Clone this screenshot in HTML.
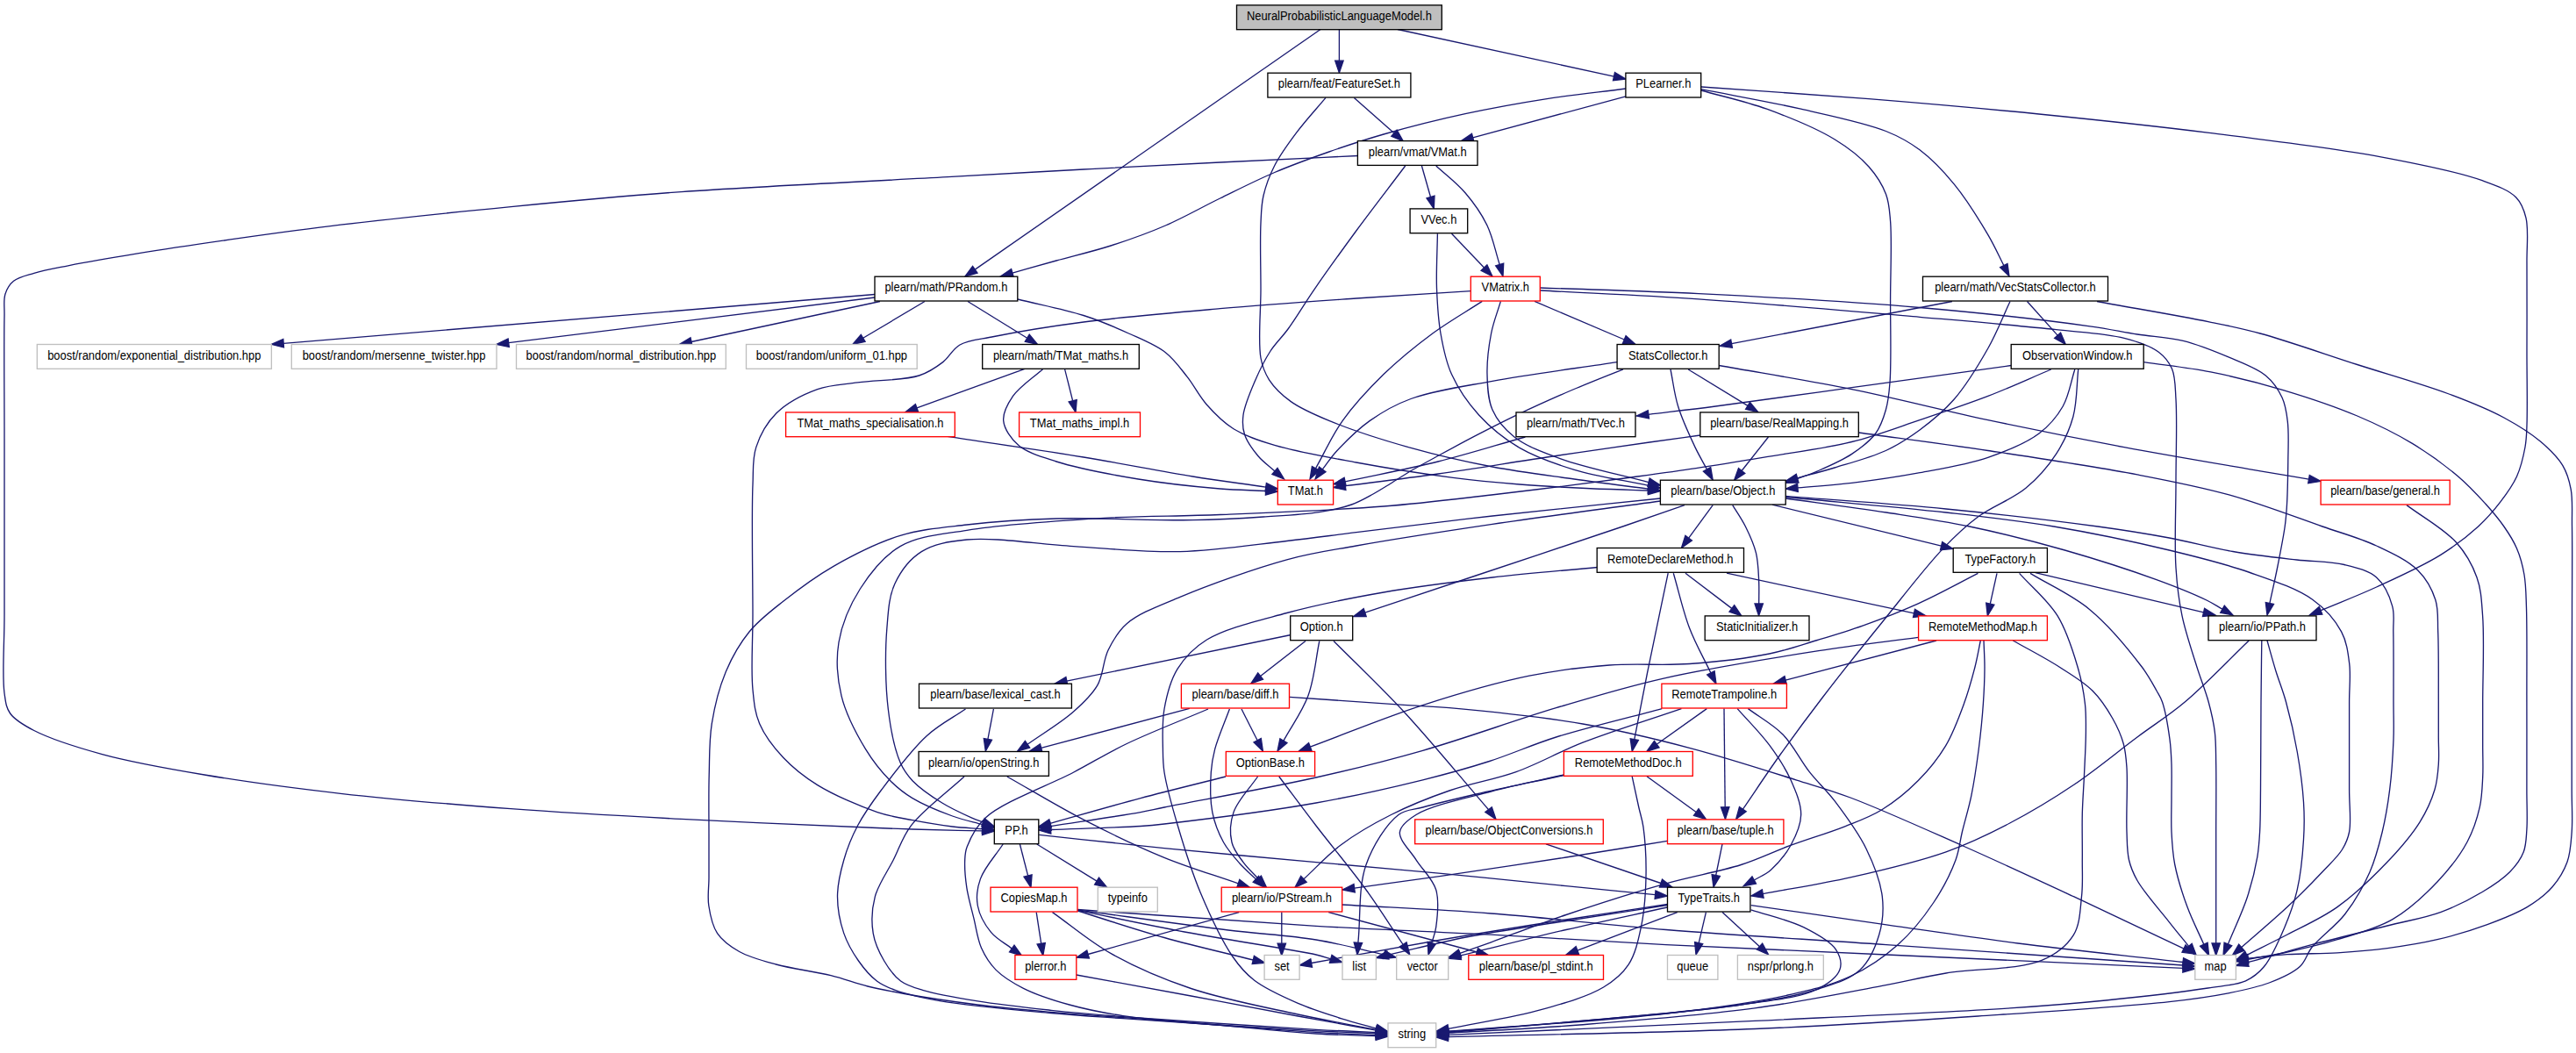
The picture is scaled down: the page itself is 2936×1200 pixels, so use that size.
<!DOCTYPE html>
<html><head><meta charset="utf-8"><title>NeuralProbabilisticLanguageModel.h include graph</title>
<style>html,body{margin:0;padding:0;background:#fff}svg{display:block}.e path{fill:none;stroke:#191970;stroke-width:1.33}.e polygon{fill:#191970;stroke:#191970;stroke-width:1.33}.n rect{fill:#fff;stroke-width:1.33}.k{stroke:#000}.r{stroke:#f00}.g{stroke:#bfbfbf}text{font-family:"Liberation Sans",Helvetica,Arial,sans-serif;font-size:14px;fill:#000;text-anchor:middle}</style></head><body>
<svg width="2936" height="1200" viewBox="0 0 2936 1200">
<rect width="2936" height="1200" fill="#fff"/>
<g class="e">
<path d="M1505.0,33.5L1111.3,307.1"/><polygon points="1100.0,315.0 1108.6,303.3 1114.0,311.0"/>
<path d="M1526.4,33.5L1526.4,69.2"/><polygon points="1526.4,83.0 1521.7,69.2 1531.1,69.2"/>
<path d="M1593.0,33.5L1839.5,87.1"/><polygon points="1853.0,90.0 1838.5,91.7 1840.5,82.5"/>
<path d="M1543.4,111.4L1589.0,151.7"/><polygon points="1599.3,160.8 1585.8,155.2 1592.1,148.1"/>
<path d="M1511.0,111.4C1499.8,124.7 1487.5,138.0 1477.5,151.4C1468.2,163.8 1459.1,176.2 1452.7,188.7C1446.9,200.0 1442.6,211.7 1440.0,223.0C1437.6,233.4 1437.6,241.4 1437.0,254.0C1436.0,273.7 1437.0,304.5 1437.0,330.0C1437.0,355.8 1433.6,389.5 1437.0,408.0C1439.0,418.8 1441.5,425.0 1446.5,432.8C1452.3,441.7 1461.2,450.3 1471.3,457.6C1483.2,466.2 1497.3,472.1 1514.8,479.4C1539.7,489.7 1576.7,501.6 1608.0,510.4C1638.8,519.1 1669.9,526.1 1701.0,532.0C1732.0,537.9 1764.0,541.7 1794.3,546.0C1823.1,550.1 1850.6,553.5 1878.7,557.2"/><polygon points="1892.4,559.0 1878.1,561.9 1879.3,552.5"/>
<path d="M1853.0,101.0C1823.0,104.9 1793.2,107.9 1763.0,112.6C1732.2,117.4 1700.9,123.0 1670.0,129.7C1638.9,136.4 1604.8,145.1 1577.0,153.0C1554.1,159.6 1535.4,165.8 1514.8,173.0C1494.0,180.3 1473.2,187.8 1452.7,196.5C1431.8,205.4 1411.3,215.9 1390.6,226.0C1369.8,236.1 1349.4,247.9 1328.4,257.0C1307.9,265.9 1286.9,273.3 1266.0,280.0C1245.4,286.6 1223.6,291.6 1204.0,297.0C1186.4,301.9 1170.6,306.4 1153.9,311.1"/><polygon points="1140.6,314.8 1152.6,306.5 1155.2,315.6"/>
<path d="M1853.0,109.8L1678.7,156.9"/><polygon points="1665.4,160.5 1677.5,152.4 1679.9,161.4"/>
<path d="M1939.0,101.7C1976.8,109.2 2016.3,115.9 2052.5,124.2C2086.2,131.9 2125.0,139.7 2149.5,149.5C2165.8,156.0 2175.7,161.6 2188.0,170.8C2201.7,181.1 2214.7,194.7 2227.0,209.6C2240.9,226.5 2255.9,250.7 2266.0,267.9C2273.5,280.7 2277.9,290.9 2283.8,302.5"/><polygon points="2290.0,314.8 2279.6,304.6 2288.0,300.4"/>
<path d="M1939.0,103.0C1963.9,110.1 1988.8,115.2 2013.6,124.2C2039.6,133.7 2070.5,146.3 2091.3,159.0C2107.2,168.7 2120.0,178.7 2130.0,190.0C2138.6,199.7 2145.4,210.5 2149.5,221.3C2153.3,231.3 2153.5,239.3 2154.6,252.3C2156.4,274.0 2154.7,310.1 2154.6,340.0C2154.5,371.3 2155.8,412.9 2154.0,436.0C2153.0,449.2 2152.2,457.2 2149.4,467.0C2146.7,476.5 2143.6,485.9 2137.7,494.0C2131.1,502.9 2120.9,510.5 2110.6,517.4C2099.2,525.0 2083.2,531.8 2071.7,536.8C2063.0,540.6 2056.0,542.7 2048.2,545.7"/><polygon points="2035.2,550.4 2046.6,541.3 2049.8,550.1"/>
<path d="M1939.0,99.0C2002.7,103.5 2066.1,107.5 2130.0,112.6C2194.4,117.8 2259.4,123.5 2324.0,130.0C2388.7,136.5 2453.4,143.3 2518.0,151.4C2582.8,159.5 2656.0,168.1 2712.4,178.6C2756.4,186.8 2801.0,195.6 2829.0,205.7C2845.8,211.8 2859.3,216.5 2867.7,225.0C2874.2,231.6 2876.7,238.8 2879.0,248.4C2882.2,262.0 2879.8,280.0 2880.0,300.0C2880.3,327.9 2880.0,368.1 2880.0,400.0C2880.0,429.4 2880.8,464.7 2880.0,484.5C2879.6,495.3 2879.6,500.6 2878.0,509.5C2876.1,519.9 2873.2,532.5 2868.5,543.0C2863.8,553.4 2856.8,562.9 2849.7,572.2C2842.3,581.9 2834.6,590.8 2824.6,600.0C2812.6,611.0 2798.1,622.2 2781.3,632.6C2760.7,645.4 2732.2,658.1 2708.6,669.0C2686.9,679.0 2666.2,686.8 2645.1,695.7"/><polygon points="2632.3,701.0 2643.3,691.4 2646.8,700.1"/>
<path d="M1548.0,177.5C1495.5,180.0 1442.9,182.4 1390.6,185.0C1338.6,187.6 1286.8,190.2 1235.0,193.0C1183.3,195.8 1140.3,198.3 1080.0,201.7C995.7,206.4 866.3,212.2 776.4,218.6C704.4,223.8 647.0,229.3 582.3,235.6C517.6,241.9 444.6,249.5 388.2,256.2C344.4,261.4 310.5,266.2 271.7,271.7C232.9,277.2 190.2,283.5 155.3,289.2C126.8,293.8 99.0,298.6 77.6,302.8C62.4,305.8 50.0,307.9 38.8,311.3C29.9,314.0 21.1,315.7 15.5,320.3C10.8,324.1 7.9,329.2 6.0,335.0C3.8,342.0 5.2,348.3 5.0,360.0C4.4,387.7 5.0,449.2 5.0,500.0C5.0,560.7 5.0,646.5 5.0,700.0C5.0,735.9 2.2,770.0 5.0,790.0C6.5,800.3 6.9,806.3 11.6,813.0C17.2,820.9 26.8,826.3 38.8,832.5C57.6,842.2 87.7,851.7 116.5,859.6C151.1,869.1 191.3,876.0 233.0,883.0C280.9,891.1 333.5,898.1 388.2,904.3C449.2,911.2 517.6,916.8 582.3,921.7C647.0,926.5 709.4,929.9 776.4,933.4C848.3,937.2 955.7,941.7 1000.0,943.5C1018.7,944.3 1024.4,944.5 1040.0,945.0C1062.0,945.7 1093.1,946.3 1119.6,946.9"/><polygon points="1133.4,947.2 1119.5,951.6 1119.7,942.2"/>
<path d="M1620.4,189.0L1630.5,224.5"/><polygon points="1634.3,237.8 1626.0,225.8 1635.0,223.2"/>
<path d="M1636.8,189.0C1647.9,199.3 1660.3,208.4 1670.0,219.8C1679.7,231.1 1688.5,243.5 1695.0,257.0C1701.6,270.7 1704.4,286.7 1709.2,301.5"/><polygon points="1713.0,314.8 1704.7,302.8 1713.7,300.2"/>
<path d="M1601.7,189.0C1583.1,213.7 1563.5,239.0 1545.8,263.0C1529.4,285.4 1512.8,308.3 1499.0,328.4C1487.4,345.1 1477.5,362.0 1468.0,375.0C1460.8,384.8 1454.0,390.8 1448.0,400.0C1441.6,409.9 1436.0,421.1 1431.0,432.8C1425.6,445.3 1418.5,461.5 1417.0,473.0C1415.9,481.3 1416.1,487.7 1418.5,495.0C1421.2,503.4 1428.0,512.6 1434.0,519.8C1439.6,526.5 1446.7,531.3 1453.0,537.1"/><polygon points="1463.5,546.0 1449.9,540.6 1456.0,533.5"/>
<path d="M1654.5,266.3L1691.5,305.0"/><polygon points="1701.0,315.0 1688.1,308.3 1694.9,301.8"/>
<path d="M1638.4,266.3C1638.1,287.0 1636.8,308.7 1637.5,328.4C1638.2,346.4 1639.1,363.4 1642.0,380.0C1644.8,396.1 1647.7,411.6 1654.5,426.6C1661.8,442.7 1673.0,459.2 1685.6,473.0C1698.6,487.2 1714.5,500.2 1732.0,510.4C1750.5,521.2 1771.6,528.4 1794.3,535.3C1820.0,543.1 1850.7,547.3 1878.9,553.3"/><polygon points="1892.4,556.0 1877.9,557.9 1879.8,548.7"/>
<path d="M997.0,335.5L323.2,391.3"/><polygon points="309.4,392.4 322.8,386.6 323.5,395.9"/>
<path d="M997.0,339.0L579.7,390.7"/><polygon points="566.0,392.4 579.1,386.0 580.3,395.4"/>
<path d="M1003.0,343.5L788.0,389.5"/><polygon points="774.5,392.4 787.0,384.9 789.0,394.1"/>
<path d="M1054.0,343.5L983.7,385.3"/><polygon points="971.8,392.4 981.3,381.3 986.1,389.4"/>
<path d="M1103.0,343.5L1170.7,385.2"/><polygon points="1182.5,392.4 1168.3,389.2 1173.2,381.2"/>
<path d="M1160.0,341.0C1185.0,347.2 1212.6,352.3 1235.0,359.5C1254.0,365.6 1270.4,372.6 1286.5,380.0C1301.4,386.8 1316.9,392.8 1328.4,401.7C1338.7,409.7 1345.5,419.9 1353.3,429.7C1361.1,439.6 1366.5,451.1 1375.0,460.7C1383.9,470.8 1393.8,481.1 1406.0,488.7C1419.4,497.0 1434.2,501.7 1452.7,507.3C1478.2,515.0 1513.4,521.0 1545.8,527.0C1580.9,533.5 1622.6,540.1 1656.0,544.4C1683.6,548.0 1706.6,550.0 1732.0,552.0C1757.3,554.0 1783.1,555.3 1808.0,556.5C1832.0,557.6 1855.1,558.2 1878.6,559.0"/><polygon points="1892.4,559.5 1878.4,563.7 1878.8,554.3"/>
<path d="M1676.6,331.6C1633.0,334.4 1591.3,336.8 1545.8,340.0C1496.3,343.5 1442.3,347.2 1390.6,351.7C1338.7,356.2 1281.3,361.0 1235.0,367.0C1197.3,371.9 1158.9,378.3 1133.0,383.5C1116.9,386.8 1104.1,387.2 1094.0,393.0C1085.6,397.8 1082.1,406.9 1074.7,412.6C1066.8,418.7 1059.2,424.2 1047.5,428.0C1030.0,433.7 998.4,433.0 977.6,435.9C960.7,438.3 946.6,438.2 931.7,443.6C915.7,449.4 896.9,459.1 885.0,470.8C874.2,481.5 866.3,495.8 861.8,509.6C857.4,523.0 858.8,533.8 858.0,552.3C856.5,586.7 858.0,657.4 858.0,700.0C858.0,732.5 855.7,763.1 858.0,786.0C859.5,801.5 860.4,812.3 865.7,824.7C871.5,838.3 882.1,852.0 892.9,863.5C904.0,875.3 916.3,885.1 931.7,894.6C950.7,906.3 980.0,918.8 1000.0,925.6C1014.8,930.6 1026.2,932.0 1040.0,934.7C1054.7,937.5 1071.5,940.3 1085.6,942.0C1097.7,943.4 1108.3,943.7 1119.6,944.6"/><polygon points="1133.4,945.5 1119.3,949.3 1119.9,939.9"/>
<path d="M1689.3,343.4C1670.5,355.6 1651.2,366.5 1632.8,380.0C1613.7,394.1 1594.2,409.9 1577.0,426.6C1560.1,443.1 1543.5,460.9 1530.3,479.4C1517.9,496.8 1509.8,515.7 1499.5,533.8"/><polygon points="1493.0,546.0 1495.4,531.6 1503.7,536.1"/>
<path d="M1710.4,343.4C1706.8,355.6 1702.1,366.9 1699.6,380.0C1696.8,394.5 1694.6,411.6 1695.0,426.6C1695.3,440.6 1695.8,455.0 1701.0,467.0C1706.2,478.8 1714.9,489.2 1726.0,498.0C1739.5,508.6 1758.0,515.3 1778.8,522.9C1806.5,533.0 1845.6,540.7 1879.0,549.6"/><polygon points="1892.4,553.0 1877.9,554.2 1880.2,545.1"/>
<path d="M1749.0,343.4L1851.3,387.0"/><polygon points="1864.0,392.4 1849.5,391.3 1853.1,382.7"/>
<path d="M1755.3,328.0C1815.5,330.2 1870.8,331.4 1936.0,334.6C2013.1,338.4 2109.6,343.7 2188.0,350.5C2257.0,356.5 2337.4,365.6 2382.0,371.8C2405.6,375.1 2418.1,378.2 2436.0,381.0C2453.5,383.7 2471.0,384.1 2488.2,388.4C2505.9,392.8 2524.2,400.3 2540.5,407.2C2555.4,413.6 2571.8,419.3 2582.3,428.0C2590.9,435.1 2596.8,444.0 2601.0,453.0C2605.0,461.5 2606.1,469.9 2607.3,480.3C2608.9,493.6 2607.9,510.5 2607.8,526.3C2607.6,543.2 2607.2,564.9 2606.3,578.5C2605.7,587.2 2605.4,591.6 2604.2,600.0C2602.5,612.3 2598.9,630.2 2596.0,645.0C2593.2,659.4 2589.9,673.3 2586.9,687.5"/><polygon points="2584.0,701.0 2582.3,686.5 2591.5,688.5"/>
<path d="M1755.3,331.0C1815.5,334.3 1870.8,336.4 1936.0,340.8C2013.1,346.0 2114.1,354.9 2188.0,361.3C2246.1,366.4 2300.6,371.0 2343.5,375.7C2373.8,379.0 2399.8,379.9 2421.0,385.4C2436.5,389.4 2450.5,394.0 2460.0,401.0C2467.3,406.4 2472.1,412.4 2475.5,420.3C2479.5,429.7 2479.1,440.5 2480.0,455.0C2481.5,478.8 2480.0,518.2 2480.0,550.0C2480.0,582.2 2478.2,619.3 2480.0,647.0C2481.3,667.9 2483.2,683.3 2487.0,701.7C2491.0,721.0 2498.4,742.4 2503.9,760.0C2508.5,774.6 2513.7,787.1 2517.2,800.0C2520.4,811.8 2522.9,822.5 2524.3,834.2C2525.8,846.2 2525.4,856.4 2525.7,871.0C2526.1,892.4 2525.7,923.6 2525.7,950.0C2525.7,976.6 2525.7,1007.2 2525.7,1030.0C2525.7,1047.1 2525.7,1059.9 2525.7,1074.9"/><polygon points="2525.7,1088.7 2521.0,1074.9 2530.4,1074.9"/>
<path d="M2225.0,343.5L1973.6,391.7"/><polygon points="1960.0,394.3 1972.7,387.1 1974.4,396.3"/>
<path d="M2291.0,343.5C2282.6,361.3 2275.9,379.2 2265.8,397.0C2254.8,416.4 2241.1,439.1 2227.0,455.3C2214.8,469.3 2201.4,480.1 2188.0,490.0C2175.5,499.2 2164.0,506.7 2149.4,513.5C2132.3,521.4 2109.0,527.5 2091.0,533.0C2075.8,537.6 2062.7,540.9 2048.5,544.8"/><polygon points="2035.2,548.4 2047.3,540.3 2049.7,549.3"/>
<path d="M2310.5,343.5L2345.1,382.1"/><polygon points="2354.3,392.4 2341.6,385.3 2348.6,379.0"/>
<path d="M2390.0,343.5C2432.7,351.3 2483.7,359.8 2518.0,366.8C2541.2,371.5 2553.7,373.9 2576.0,380.0C2607.1,388.5 2650.3,403.8 2686.7,415.5C2722.0,426.8 2761.0,437.7 2791.2,449.0C2815.0,457.9 2835.5,466.1 2853.9,476.0C2869.6,484.5 2884.0,493.4 2895.7,503.3C2905.7,511.8 2915.0,520.7 2920.8,530.4C2925.9,539.0 2928.3,547.4 2930.2,557.6C2932.5,570.0 2931.2,582.9 2931.5,600.0C2931.9,626.3 2931.5,666.7 2931.5,700.0C2931.5,733.3 2931.2,766.7 2931.2,800.0C2931.2,833.3 2931.2,872.7 2931.2,900.0C2931.2,918.9 2932.3,933.4 2931.2,948.0C2930.3,960.4 2929.8,971.7 2926.0,982.3C2922.3,992.6 2916.3,1002.4 2909.0,1010.8C2901.3,1019.6 2891.5,1026.9 2880.4,1033.6C2867.4,1041.4 2851.1,1047.6 2834.9,1053.6C2817.2,1060.1 2797.0,1066.2 2777.9,1070.7C2759.1,1075.1 2740.0,1078.1 2721.0,1080.6C2702.1,1083.1 2683.0,1084.6 2664.0,1085.8C2645.0,1087.0 2624.8,1086.5 2607.0,1087.7C2591.2,1088.7 2577.2,1090.6 2562.2,1092.1"/><polygon points="2548.5,1093.5 2561.7,1087.4 2562.7,1096.7"/>
<path d="M1843.4,412.6C1795.9,419.8 1743.3,426.5 1701.0,434.3C1666.6,440.7 1633.2,445.2 1608.0,454.5C1589.2,461.4 1575.5,469.4 1561.4,479.4C1547.6,489.2 1533.7,503.1 1524.0,513.5C1516.9,521.1 1512.8,527.8 1507.3,534.9"/><polygon points="1499.0,546.0 1503.5,532.1 1511.0,537.7"/>
<path d="M1850.0,420.8C1830.9,428.5 1812.1,435.8 1792.8,444.0C1772.8,452.6 1750.7,462.5 1732.0,471.4C1715.6,479.2 1701.5,486.4 1686.4,494.2C1671.1,502.1 1654.4,511.1 1640.8,518.5C1629.6,524.6 1620.0,529.7 1610.4,535.3C1601.5,540.5 1593.0,546.1 1585.0,551.0C1578.0,555.3 1572.1,559.1 1565.0,563.0C1557.3,567.2 1549.7,571.7 1540.5,575.0C1529.6,578.9 1517.6,581.4 1503.5,583.6C1485.3,586.5 1462.4,587.5 1440.0,589.0C1414.8,590.7 1390.7,592.2 1359.5,592.7C1316.1,593.5 1250.4,589.7 1204.0,591.0C1166.4,592.1 1133.4,594.4 1102.0,598.0C1074.7,601.2 1050.8,602.8 1026.0,610.4C1000.1,618.3 973.0,632.2 950.0,645.3C929.1,657.3 909.8,671.7 893.0,685.0C878.4,696.6 865.0,706.5 854.0,720.0C842.9,733.6 833.9,749.6 826.9,766.5C819.5,784.4 814.4,805.1 811.3,824.7C808.2,844.0 808.8,862.9 808.2,883.0C807.6,904.5 808.0,929.3 808.0,950.0C808.0,967.9 808.0,985.2 808.0,1000.0C808.0,1011.9 806.2,1021.5 807.8,1032.0C809.4,1042.7 811.7,1054.8 817.6,1063.6C823.4,1072.3 832.7,1078.8 842.7,1084.5C854.4,1091.1 869.0,1094.8 884.5,1099.0C903.1,1104.1 928.3,1107.0 947.0,1111.6C962.5,1115.4 974.9,1120.5 989.0,1124.0C1002.9,1127.4 1014.4,1129.6 1030.7,1132.5C1053.7,1136.6 1086.4,1141.5 1114.3,1145.0C1142.1,1148.5 1170.2,1150.9 1198.0,1153.4C1225.5,1155.8 1246.1,1157.1 1280.0,1159.7C1335.6,1163.9 1447.5,1173.2 1500.0,1176.4C1529.2,1178.2 1545.5,1178.4 1568.2,1179.4"/><polygon points="1582.0,1180.0 1568.0,1184.1 1568.4,1174.7"/>
<path d="M1904.0,421.0C1906.9,435.0 1908.2,448.8 1912.6,463.0C1917.3,478.4 1925.8,496.5 1932.0,509.6C1936.7,519.4 1941.0,526.5 1945.5,534.9"/><polygon points="1952.2,547.0 1941.4,537.2 1949.7,532.6"/>
<path d="M1924.2,421.0L1992.0,462.4"/><polygon points="2003.8,469.6 1989.6,466.4 1994.5,458.4"/>
<path d="M1959.2,416.5C2009.7,425.5 2059.9,433.4 2110.6,443.6C2162.1,454.0 2214.0,467.6 2265.8,478.6C2317.5,489.6 2369.2,499.9 2421.0,509.6C2472.7,519.3 2537.7,530.1 2576.4,536.8C2599.4,540.8 2613.1,543.0 2631.5,546.1"/><polygon points="2645.1,548.4 2630.7,550.7 2632.3,541.5"/>
<path d="M2292.2,416.5C2231.7,424.9 2168.8,433.7 2110.6,441.7C2056.8,449.1 1998.0,457.5 1955.3,463.0C1925.4,466.9 1904.4,469.2 1878.9,472.3"/><polygon points="1865.2,474.0 1878.3,467.7 1879.5,477.0"/>
<path d="M2337.7,421.0C2313.7,431.1 2290.4,441.9 2265.8,451.4C2240.5,461.1 2214.0,469.9 2188.0,478.6C2162.2,487.3 2138.3,496.6 2110.6,503.5C2079.6,511.2 2041.8,515.9 2010.6,521.2C1983.1,525.8 1958.9,529.8 1933.0,533.7C1907.1,537.6 1881.2,541.0 1855.3,544.5C1829.4,548.0 1803.5,551.3 1777.6,554.6C1751.7,557.8 1728.8,560.7 1700.0,564.0C1663.7,568.1 1622.3,573.5 1577.0,577.0C1521.4,581.4 1447.9,584.2 1390.6,586.5C1341.5,588.5 1300.7,587.8 1254.0,590.6C1204.6,593.6 1143.8,597.4 1102.0,604.3C1072.1,609.2 1046.7,610.6 1026.0,622.6C1006.9,633.7 992.1,652.7 980.4,671.0C968.8,689.2 959.5,711.3 956.0,732.0C952.7,751.9 954.2,773.0 959.0,792.8C964.0,813.6 976.1,836.4 986.5,853.6C995.2,867.9 1005.2,880.2 1015.0,890.0C1023.1,898.1 1030.0,903.6 1040.0,909.6C1052.6,917.2 1071.3,924.8 1085.6,930.0C1097.7,934.4 1108.6,936.5 1120.1,939.7"/><polygon points="1133.4,943.2 1118.9,944.2 1121.3,935.1"/>
<path d="M2364.8,421.0C2360.3,435.0 2358.2,450.7 2351.2,463.0C2344.4,474.9 2335.9,485.0 2324.0,494.0C2309.1,505.2 2287.0,514.0 2265.8,521.3C2242.2,529.4 2214.2,533.8 2188.2,538.7C2162.4,543.5 2135.0,547.5 2110.6,550.4C2088.9,553.0 2069.5,554.0 2049.0,555.9"/><polygon points="2035.2,557.0 2048.6,551.2 2049.3,560.5"/>
<path d="M2368.7,421.0C2366.8,438.9 2367.4,458.2 2362.9,474.7C2358.7,490.1 2352.1,504.1 2343.5,517.4C2334.4,531.4 2322.8,544.8 2308.9,556.3C2293.6,569.0 2270.6,576.9 2254.4,589.0C2239.4,600.1 2228.9,610.1 2214.4,625.4C2193.8,647.0 2168.1,680.9 2145.3,709.0C2122.4,737.2 2098.0,767.7 2077.5,794.5C2059.8,817.6 2044.5,838.3 2029.0,860.0C2014.1,880.9 2000.6,901.5 1986.4,922.2"/><polygon points="1978.6,933.6 1982.5,919.5 1990.2,924.8"/>
<path d="M2443.2,412.6C2468.7,416.4 2493.7,418.8 2519.6,423.9C2547.0,429.3 2575.5,436.5 2603.2,444.8C2631.2,453.2 2661.2,463.2 2686.7,474.0C2709.4,483.6 2729.9,493.6 2749.4,505.4C2768.1,516.7 2786.9,530.4 2801.7,543.0C2814.0,553.4 2823.8,564.2 2833.0,574.3C2840.9,583.1 2847.8,591.3 2853.9,600.0C2859.6,608.2 2864.7,616.0 2868.5,625.0C2872.5,634.3 2875.2,644.5 2877.0,655.0C2878.9,666.1 2878.9,675.1 2879.4,690.0C2880.4,716.4 2879.8,764.2 2879.9,800.0C2880.0,834.1 2879.9,873.2 2879.9,900.0C2879.9,918.1 2880.8,932.4 2879.9,945.3C2879.2,955.1 2879.3,963.0 2876.2,971.0C2873.0,979.2 2867.4,986.7 2860.5,993.7C2852.4,1002.0 2841.0,1009.4 2829.2,1016.5C2815.4,1024.8 2799.2,1033.1 2782.2,1039.3C2763.5,1046.2 2743.1,1049.4 2721.0,1055.0C2694.9,1061.6 2660.0,1069.9 2635.4,1076.4C2616.7,1081.3 2599.9,1086.3 2586.3,1090.0C2576.7,1092.6 2570.0,1094.5 2561.8,1096.7"/><polygon points="2548.5,1100.4 2560.6,1092.2 2563.1,1101.3"/>
<path d="M1937.8,496.0C1918.5,498.7 1902.6,500.8 1880.0,504.0C1847.8,508.6 1802.6,515.1 1763.0,521.0C1722.3,527.1 1678.7,534.4 1639.0,540.0C1602.4,545.2 1568.5,549.2 1533.3,553.7"/><polygon points="1519.6,555.5 1532.7,549.1 1533.9,558.4"/>
<path d="M2015.5,498.0L1985.1,536.5"/><polygon points="1976.6,547.3 1981.5,533.6 1988.8,539.4"/>
<path d="M2118.3,493.0C2167.5,499.8 2214.9,505.9 2265.8,513.5C2320.5,521.7 2386.3,531.4 2436.0,540.9C2475.2,548.4 2505.8,554.2 2540.5,563.9C2576.1,573.8 2616.4,589.3 2647.0,600.0C2670.4,608.1 2689.8,613.2 2708.6,622.0C2725.8,630.1 2744.3,638.5 2755.8,650.0C2765.5,659.7 2772.0,671.6 2775.8,683.5C2779.5,695.0 2778.1,705.5 2778.7,720.0C2779.6,741.5 2779.2,777.9 2779.3,800.0C2779.4,815.6 2779.3,827.5 2779.3,840.0C2779.3,851.0 2780.1,860.9 2779.3,871.0C2778.6,880.8 2778.0,889.7 2775.0,899.7C2771.5,911.5 2765.8,924.3 2758.0,936.8C2748.7,951.8 2735.3,967.2 2721.0,982.3C2704.6,999.5 2683.8,1019.5 2664.0,1033.6C2645.7,1046.6 2625.1,1055.5 2607.0,1065.0C2590.9,1073.5 2576.2,1080.5 2560.8,1088.3"/><polygon points="2548.5,1094.5 2558.7,1084.1 2562.9,1092.5"/>
<path d="M1738.4,498.0C1705.3,507.3 1672.8,517.6 1639.0,526.0C1604.4,534.6 1568.4,541.2 1533.1,548.9"/><polygon points="1519.6,551.7 1532.1,544.3 1534.1,553.5"/>
<path d="M2743.0,575.6C2761.8,589.7 2785.6,602.6 2799.4,618.0C2810.6,630.5 2818.0,643.9 2823.0,658.0C2827.9,671.8 2828.3,684.2 2829.6,701.7C2831.6,727.9 2829.7,772.7 2829.7,800.0C2829.7,819.5 2829.7,834.8 2829.7,850.0C2829.7,862.8 2830.3,873.8 2829.7,885.5C2829.1,897.0 2828.9,908.0 2826.3,919.7C2823.4,932.6 2819.1,946.3 2812.0,959.5C2803.8,974.8 2791.4,990.8 2777.9,1005.0C2763.3,1020.4 2745.6,1036.9 2726.6,1047.9C2707.6,1058.8 2684.5,1064.4 2664.0,1070.7C2644.7,1076.6 2624.9,1081.1 2607.0,1085.0C2591.2,1088.4 2577.1,1090.5 2562.1,1093.3"/><polygon points="2548.5,1095.7 2561.3,1088.7 2562.9,1097.9"/>
<path d="M1168.0,420.4L1045.0,464.9"/><polygon points="1032.0,469.6 1043.4,460.5 1046.6,469.3"/>
<path d="M1188.7,420.4C1177.3,430.7 1162.1,440.4 1154.5,451.4C1148.4,460.3 1142.9,470.3 1143.7,479.4C1144.6,488.9 1152.2,499.9 1160.7,507.3C1171.0,516.2 1186.5,520.4 1204.0,526.0C1228.9,534.0 1266.2,540.8 1297.4,546.0C1328.4,551.1 1364.0,554.8 1390.6,557.0C1410.4,558.6 1425.3,558.6 1442.6,559.5"/><polygon points="1456.4,560.0 1442.4,564.2 1442.8,554.8"/>
<path d="M1213.5,420.4L1222.6,456.6"/><polygon points="1226.0,470.0 1218.1,457.8 1227.2,455.5"/>
<path d="M1080.0,497.4C1131.7,505.3 1186.2,513.0 1235.0,521.0C1278.8,528.2 1322.1,537.0 1359.5,543.0C1390.0,547.9 1415.0,551.0 1442.7,555.1"/><polygon points="1456.4,557.0 1442.1,559.7 1443.4,550.4"/>
<path d="M1952.2,575.6L1924.7,613.2"/><polygon points="1916.5,624.3 1920.9,610.4 1928.4,615.9"/>
<path d="M1974.7,575.6C1979.6,583.7 1985.0,591.2 1989.4,600.0C1994.1,609.4 1999.0,620.1 2001.5,630.4C2003.9,640.4 2004.1,650.9 2004.6,660.8C2005.1,670.1 2004.7,678.9 2004.7,688.0"/><polygon points="2004.6,701.8 2000.0,688.0 2009.4,688.0"/>
<path d="M2020.0,575.2L2212.6,622.1"/><polygon points="2226.0,625.4 2211.5,626.7 2213.7,617.6"/>
<path d="M2035.2,568.0C2073.5,573.3 2113.6,578.4 2150.0,584.0C2183.1,589.1 2212.3,593.2 2244.8,600.0C2279.9,607.3 2317.7,616.8 2353.4,627.0C2388.7,637.1 2428.5,649.9 2457.9,660.6C2480.0,668.7 2501.5,677.4 2515.0,684.0C2522.8,687.8 2527.0,690.8 2533.0,694.2"/><polygon points="2545.0,701.0 2530.7,698.3 2535.3,690.1"/>
<path d="M2035.2,566.5C2096.1,572.3 2163.1,577.8 2218.0,584.0C2263.1,589.1 2299.4,593.0 2340.9,600.0C2384.1,607.2 2432.8,617.5 2472.4,627.0C2505.6,635.0 2534.7,642.1 2563.0,652.0C2589.0,661.1 2617.5,670.2 2636.0,683.5C2650.5,693.9 2661.7,706.9 2668.6,719.9C2674.7,731.3 2676.1,743.4 2677.7,756.2C2679.4,770.0 2677.6,782.4 2677.6,800.0C2677.6,826.5 2677.6,872.7 2677.6,900.0C2677.6,918.9 2680.0,935.6 2677.6,948.0C2676.0,956.3 2673.7,961.3 2669.6,968.0C2664.4,976.5 2655.6,984.3 2646.8,993.7C2635.5,1005.7 2621.4,1020.1 2607.0,1033.6C2591.0,1048.6 2572.2,1064.3 2554.8,1079.6"/><polygon points="2544.4,1088.7 2551.7,1076.1 2557.9,1083.2"/>
<path d="M2035.2,565.4C2096.1,570.3 2158.0,574.1 2218.0,580.0C2276.5,585.7 2344.1,593.6 2391.0,600.0C2423.2,604.4 2446.1,608.1 2472.4,613.0C2497.4,617.7 2520.7,624.3 2545.0,628.5C2569.1,632.6 2595.2,635.4 2617.7,638.0C2637.1,640.2 2655.9,639.6 2672.0,643.5C2685.7,646.8 2699.4,649.9 2708.6,658.0C2717.5,665.9 2723.7,679.8 2726.7,690.8C2729.4,700.5 2727.6,707.9 2727.8,720.0C2728.2,740.1 2728.0,777.5 2728.0,800.0C2728.0,816.4 2728.6,827.5 2728.0,842.7C2727.3,860.3 2726.0,881.5 2723.7,899.7C2721.6,916.5 2719.0,932.2 2715.2,948.0C2711.4,963.6 2707.7,978.6 2701.0,993.7C2693.8,1010.0 2683.7,1027.6 2672.5,1042.0C2661.7,1055.9 2644.4,1067.7 2635.4,1079.0C2629.0,1087.0 2628.2,1095.1 2621.3,1101.5C2612.9,1109.3 2599.1,1115.1 2586.3,1120.0C2572.2,1125.4 2556.8,1128.4 2539.7,1131.8C2519.4,1135.8 2501.3,1138.4 2472.4,1141.6C2420.6,1147.3 2329.9,1153.0 2254.4,1158.0C2172.9,1163.4 2091.6,1168.7 2000.0,1172.5C1892.8,1177.0 1767.0,1178.6 1650.5,1181.7"/><polygon points="1636.7,1182.0 1650.4,1177.0 1650.6,1186.4"/>
<path d="M1892.4,568.0C1828.6,574.7 1761.4,581.2 1701.0,588.0C1646.5,594.1 1588.9,601.4 1545.8,606.7C1515.0,610.5 1495.9,613.2 1466.7,616.5C1430.5,620.5 1385.6,627.6 1345.0,628.6C1304.5,629.6 1264.0,624.9 1223.5,622.6C1183.0,620.3 1133.8,611.9 1102.0,615.0C1080.9,617.1 1064.2,619.8 1050.3,628.6C1037.2,636.9 1026.6,650.8 1020.0,665.0C1013.0,680.0 1012.4,697.0 1010.8,716.8C1008.7,742.8 1009.0,780.8 1012.3,808.0C1015.0,830.5 1019.7,854.2 1026.0,868.8C1030.0,878.1 1033.6,882.9 1040.0,889.7C1048.4,898.5 1062.5,908.1 1074.2,915.3C1085.3,922.2 1099.8,928.6 1108.4,932.4C1113.4,934.6 1116.5,935.5 1120.5,937.1"/><polygon points="1133.4,942.0 1118.8,941.4 1122.2,932.7"/>
<path d="M1892.4,571.0C1828.6,579.8 1761.4,588.4 1701.0,597.4C1646.5,605.5 1588.8,614.3 1545.8,622.0C1515.0,627.5 1495.6,629.9 1466.7,637.8C1430.2,647.8 1378.2,666.3 1345.0,680.3C1320.9,690.5 1298.4,698.5 1284.3,710.7C1273.9,719.7 1268.5,729.7 1263.0,741.0C1257.2,752.9 1257.6,768.9 1251.0,780.6C1244.4,792.2 1234.8,801.0 1223.5,811.0C1209.4,823.6 1188.6,835.8 1171.1,848.2"/><polygon points="1159.7,856.0 1168.4,844.3 1173.7,852.1"/>
<path d="M1920.0,575.6C1896.5,583.7 1878.0,590.3 1849.5,600.0C1805.6,614.9 1733.9,638.7 1682.0,656.0C1636.9,671.1 1597.8,684.1 1555.7,698.1"/><polygon points="1542.6,702.5 1554.2,693.7 1557.2,702.6"/>
<path d="M1820.7,646.5C1780.8,650.3 1741.2,653.3 1701.0,658.0C1660.0,662.8 1617.0,668.0 1577.0,675.0C1539.0,681.6 1501.5,689.0 1466.7,698.5C1434.6,707.3 1397.4,715.5 1375.5,729.0C1360.1,738.5 1350.1,749.3 1342.0,762.4C1333.9,775.6 1329.7,792.6 1327.0,808.0C1324.3,823.0 1325.2,840.5 1325.4,853.6C1325.5,863.6 1325.4,869.5 1327.0,880.0C1329.5,896.2 1336.0,919.5 1342.3,940.8C1349.4,964.9 1357.7,992.1 1368.0,1016.8C1378.5,1041.8 1392.5,1072.1 1404.8,1090.0C1413.1,1102.0 1419.1,1109.1 1429.7,1117.3C1442.8,1127.4 1462.6,1136.1 1479.4,1143.4C1495.7,1150.5 1513.3,1155.8 1529.0,1160.8C1542.9,1165.2 1555.5,1168.3 1568.7,1172.0"/><polygon points="1582.0,1175.7 1567.4,1176.6 1569.9,1167.5"/>
<path d="M1901.2,653.2C1893.3,691.0 1884.5,732.5 1877.6,766.5C1872.0,794.4 1867.7,817.3 1862.8,842.6"/><polygon points="1860.2,856.2 1858.2,841.8 1867.4,843.5"/>
<path d="M1907.3,653.2C1913.4,674.0 1918.1,696.0 1925.5,715.5C1932.4,733.8 1941.8,749.8 1949.9,766.9"/><polygon points="1956.0,779.3 1945.7,769.0 1954.1,764.8"/>
<path d="M1921.0,653.2L1973.8,693.4"/><polygon points="1984.8,701.8 1971.0,697.2 1976.7,689.7"/>
<path d="M1968.0,653.2L2181.5,698.9"/><polygon points="2195.0,701.8 2180.5,703.5 2182.5,694.3"/>
<path d="M2254.4,653.4C2231.7,664.9 2208.8,677.7 2186.3,687.8C2165.2,697.3 2143.7,705.6 2123.6,712.8C2105.5,719.3 2089.0,724.2 2071.3,729.5C2053.3,734.9 2037.4,740.8 2016.7,745.0C1990.4,750.4 1956.0,754.3 1925.5,756.5C1895.2,758.7 1864.6,755.7 1834.3,758.0C1803.8,760.3 1775.4,763.6 1743.0,770.2C1705.2,777.9 1662.3,790.5 1621.6,803.6C1579.1,817.3 1536.1,835.3 1493.3,851.1"/><polygon points="1480.4,856.0 1491.6,846.7 1495.0,855.5"/>
<path d="M2276.0,653.4L2268.3,688.2"/><polygon points="2265.3,701.7 2263.7,687.2 2272.9,689.2"/>
<path d="M2301.6,653.4C2316.1,669.5 2333.9,683.7 2345.0,701.7C2355.9,719.3 2362.7,742.0 2368.0,760.0C2372.4,774.9 2374.9,788.8 2376.4,801.8C2377.7,812.9 2377.4,821.3 2377.4,833.0C2377.4,848.2 2376.1,868.9 2375.4,885.4C2374.7,900.1 2373.7,912.3 2373.3,927.0C2372.9,943.6 2373.5,963.4 2373.3,980.0C2373.2,994.7 2374.1,1007.7 2372.5,1021.7C2370.9,1036.1 2370.8,1053.3 2363.4,1065.3C2355.8,1077.6 2343.7,1087.3 2327.0,1094.4C2301.4,1105.3 2250.6,1103.6 2218.0,1109.0C2191.2,1113.4 2173.7,1118.1 2145.3,1123.4C2105.2,1130.9 2052.4,1141.8 2000.0,1148.9C1938.8,1157.2 1861.9,1163.1 1800.0,1168.0C1746.6,1172.2 1700.3,1174.1 1650.5,1177.2"/><polygon points="1636.7,1178.0 1650.2,1172.5 1650.8,1181.9"/>
<path d="M2314.0,653.4C2336.5,667.1 2360.8,677.4 2381.5,694.4C2403.4,712.5 2427.9,742.4 2441.2,760.0C2449.1,770.5 2453.7,779.6 2457.9,787.0C2460.7,792.0 2462.5,794.2 2464.5,800.0C2467.9,810.0 2471.3,829.9 2473.0,842.7C2474.4,853.1 2474.6,860.8 2475.0,871.0C2475.4,883.0 2475.0,897.1 2475.0,910.0C2475.0,922.7 2474.4,935.4 2475.0,948.0C2475.6,960.4 2476.2,972.0 2478.7,985.0C2481.7,1000.2 2487.3,1018.1 2493.0,1033.6C2498.4,1048.4 2505.6,1062.0 2511.8,1076.2"/><polygon points="2517.6,1088.7 2507.6,1078.1 2516.1,1074.2"/>
<path d="M2319.8,652.6L2511.6,697.8"/><polygon points="2525.0,701.0 2510.5,702.4 2512.6,693.3"/>
<path d="M2186.4,726.4C2148.5,731.5 2114.7,735.1 2072.7,741.7C2020.0,749.9 1948.4,761.2 1895.0,773.3C1850.4,783.4 1816.2,794.0 1773.6,806.7C1725.6,821.0 1669.6,841.6 1621.6,855.3C1579.0,867.5 1544.2,876.1 1500.0,886.0C1447.5,897.8 1359.7,913.4 1327.0,920.0C1314.1,922.6 1311.9,923.4 1300.0,925.6C1276.8,929.8 1231.6,936.3 1197.4,941.6"/><polygon points="1183.8,943.7 1196.7,937.0 1198.2,946.3"/>
<path d="M2207.0,730.0L2035.1,775.2"/><polygon points="2021.8,778.7 2034.0,770.6 2036.3,779.7"/>
<path d="M2257.3,730.0C2255.2,740.0 2253.7,749.2 2251.0,760.0C2247.7,772.8 2243.7,787.5 2238.5,801.8C2232.8,817.4 2226.4,835.1 2217.6,849.8C2208.9,864.3 2198.3,877.4 2186.3,889.5C2174.0,901.9 2159.0,914.1 2144.5,923.0C2131.1,931.2 2118.2,935.6 2102.7,941.8C2084.1,949.2 2060.2,956.2 2040.0,963.7C2020.8,970.8 2005.1,978.9 1984.3,985.5C1959.1,993.5 1929.3,998.3 1898.9,1006.8C1863.5,1016.7 1820.1,1030.6 1785.0,1042.5C1754.3,1052.9 1721.7,1065.7 1699.4,1073.8C1685.1,1079.0 1675.8,1082.2 1664.0,1086.4"/><polygon points="1651.0,1091.0 1662.4,1082.0 1665.6,1090.8"/>
<path d="M2261.0,730.0C2261.3,740.0 2262.0,749.2 2262.0,760.0C2262.0,772.8 2261.4,787.1 2260.4,801.8C2259.3,818.3 2257.4,836.6 2255.2,854.0C2252.9,871.5 2250.3,889.9 2246.9,906.3C2243.9,921.1 2239.5,935.0 2236.4,948.0C2233.7,959.4 2233.2,968.5 2229.0,980.0C2223.5,994.9 2214.0,1013.4 2203.5,1029.0C2192.4,1045.5 2179.0,1062.4 2163.5,1076.2C2147.6,1090.4 2129.3,1103.0 2109.0,1112.5C2087.2,1122.8 2064.6,1127.9 2036.3,1134.3C1998.2,1142.9 1952.4,1148.8 1900.0,1155.0C1829.4,1163.3 1733.6,1168.9 1650.5,1175.9"/><polygon points="1636.7,1177.0 1650.1,1171.2 1650.8,1180.6"/>
<path d="M2294.3,730.0C2311.9,740.0 2331.1,749.8 2347.0,760.0C2360.9,768.9 2374.4,776.7 2384.8,787.0C2394.3,796.4 2401.6,807.8 2407.7,818.5C2413.2,828.1 2417.6,838.0 2420.3,847.8C2422.8,856.9 2423.2,863.7 2424.0,875.0C2425.2,893.4 2423.2,928.6 2424.0,948.0C2424.5,960.8 2424.2,970.3 2426.5,980.0C2428.5,988.6 2431.0,994.7 2436.0,1003.5C2443.7,1017.0 2461.7,1037.2 2472.4,1050.8C2480.6,1061.3 2487.2,1069.1 2494.6,1078.3"/><polygon points="2503.3,1089.0 2491.0,1081.3 2498.2,1075.3"/>
<path d="M2563.2,730.0C2539.0,753.3 2513.6,780.3 2490.5,799.8C2471.6,815.8 2455.4,825.5 2436.0,840.0C2413.5,856.7 2388.1,877.9 2363.4,894.5C2339.6,910.5 2315.3,925.1 2290.7,938.0C2266.8,950.5 2245.1,961.1 2218.0,970.8C2185.7,982.3 2144.7,991.8 2109.0,999.9C2075.2,1007.6 2042.5,1012.3 2009.3,1018.6"/><polygon points="1995.7,1021.0 2008.4,1013.9 2010.1,1023.2"/>
<path d="M2577.8,730.0C2577.5,753.3 2577.2,774.6 2577.0,800.0C2576.8,830.4 2576.8,872.7 2576.5,900.0C2576.3,918.9 2576.4,934.1 2575.6,948.0C2575.0,958.8 2574.6,966.0 2572.8,976.6C2570.5,990.1 2566.5,1006.6 2561.4,1022.2C2555.7,1039.6 2546.7,1058.1 2539.4,1076.0"/><polygon points="2534.0,1088.7 2535.1,1074.2 2543.7,1077.8"/>
<path d="M2584.0,730.0C2587.3,741.7 2590.4,753.4 2594.0,765.0C2597.6,776.7 2601.9,786.8 2605.5,800.0C2610.1,816.6 2615.0,837.9 2618.3,857.0C2621.6,875.9 2624.4,896.3 2625.5,914.0C2626.5,929.2 2626.5,941.5 2625.5,956.7C2624.4,974.4 2622.3,996.3 2618.3,1013.7C2614.8,1029.1 2610.0,1042.2 2604.0,1056.4C2597.6,1071.5 2589.4,1090.8 2580.5,1101.5C2574.1,1109.2 2568.3,1113.8 2559.5,1117.8C2548.2,1122.9 2534.4,1123.2 2516.5,1126.0C2487.2,1130.5 2438.3,1136.1 2400.0,1140.0C2363.0,1143.7 2335.9,1145.9 2290.7,1148.9C2217.1,1153.7 2101.4,1158.6 2000.0,1163.4C1888.9,1168.7 1767.0,1174.0 1650.5,1179.4"/><polygon points="1636.7,1180.0 1650.3,1174.7 1650.7,1184.1"/>
<path d="M1471.3,723.5L1215.8,776.2"/><polygon points="1202.3,779.0 1214.9,771.6 1216.8,780.8"/>
<path d="M1488.0,730.5L1436.6,770.5"/><polygon points="1425.7,779.0 1433.7,766.8 1439.5,774.2"/>
<path d="M1503.8,730.5C1499.5,751.3 1498.1,773.5 1491.0,792.8C1484.2,811.3 1472.3,827.0 1463.0,844.1"/><polygon points="1456.0,856.0 1458.9,841.7 1467.0,846.5"/>
<path d="M1520.0,730.5C1546.7,757.3 1572.6,781.5 1600.0,811.0C1631.2,844.7 1664.4,885.5 1696.6,922.7"/><polygon points="1705.0,933.6 1692.8,925.5 1700.3,919.8"/>
<path d="M1100.5,808.0C1085.8,818.1 1070.8,825.3 1056.4,838.4C1038.7,854.5 1018.8,881.2 1004.7,900.0C993.7,914.7 984.9,927.0 977.6,940.8C970.8,953.7 965.6,966.5 961.8,980.0C957.9,993.5 954.5,1007.9 954.5,1021.8C954.5,1035.7 957.5,1051.0 961.8,1063.6C965.8,1075.2 972.0,1085.7 978.5,1095.0C984.6,1103.7 991.9,1112.3 999.4,1118.0C1005.9,1122.9 1011.5,1125.2 1020.3,1128.4C1033.6,1133.2 1051.2,1137.2 1072.5,1140.9C1105.2,1146.6 1160.6,1151.1 1198.0,1154.5C1228.2,1157.3 1246.0,1158.3 1280.0,1160.7C1335.6,1164.6 1447.5,1172.1 1500.0,1174.8C1529.2,1176.3 1545.5,1176.6 1568.2,1177.5"/><polygon points="1582.0,1178.0 1568.0,1182.2 1568.4,1172.8"/>
<path d="M1132.4,808.0L1125.9,842.4"/><polygon points="1123.3,856.0 1121.3,841.6 1130.5,843.3"/>
<path d="M1355.8,807.4L1186.7,852.4"/><polygon points="1173.4,856.0 1185.5,847.9 1187.9,857.0"/>
<path d="M1377.0,808.0C1346.1,821.2 1311.7,834.4 1284.3,847.5C1261.7,858.3 1246.6,868.0 1223.8,880.0C1194.6,895.4 1143.5,913.5 1123.5,931.7C1111.7,942.5 1105.7,955.8 1102.2,965.0C1100.0,970.7 1100.0,974.1 1099.7,980.0C1099.3,988.5 1100.2,1000.6 1101.8,1011.3C1103.5,1022.9 1107.2,1035.2 1110.0,1046.9C1112.7,1058.2 1114.1,1070.3 1118.5,1080.3C1122.7,1089.7 1127.9,1098.0 1135.2,1105.4C1143.4,1113.6 1154.3,1120.2 1166.5,1126.3C1181.3,1133.8 1200.5,1139.9 1218.8,1145.0C1238.2,1150.4 1256.6,1154.1 1280.0,1157.6C1310.8,1162.2 1351.7,1164.6 1388.0,1168.0C1425.0,1171.4 1467.2,1175.9 1500.0,1178.0C1525.5,1179.6 1545.5,1179.7 1568.2,1180.6"/><polygon points="1582.0,1181.0 1568.1,1185.3 1568.4,1175.9"/>
<path d="M1401.4,808.0C1395.8,823.2 1388.2,840.3 1384.7,853.6C1382.1,863.5 1381.0,870.0 1380.3,880.0C1379.4,893.1 1379.1,911.7 1381.8,925.6C1384.3,938.1 1389.0,949.9 1394.6,960.0C1399.7,969.1 1406.6,976.8 1413.0,984.0C1418.9,990.6 1425.3,995.9 1431.4,1001.9"/><polygon points="1441.5,1011.3 1428.2,1005.3 1434.6,998.4"/>
<path d="M1415.0,808.0L1433.1,843.7"/><polygon points="1439.4,856.0 1429.0,845.8 1437.3,841.6"/>
<path d="M1469.8,794.3C1513.2,797.3 1566.4,801.2 1600.0,803.4C1621.2,804.8 1630.2,804.7 1652.0,806.7C1689.4,810.1 1756.4,816.8 1804.0,825.0C1847.0,832.4 1885.2,841.7 1925.5,852.3C1966.2,863.0 2013.3,878.2 2047.0,888.8C2071.2,896.4 2084.9,899.9 2109.0,909.0C2144.1,922.2 2193.9,944.8 2236.2,963.5C2278.7,982.3 2321.2,1002.1 2363.4,1021.7C2405.5,1041.3 2447.2,1061.3 2489.0,1081.1"/><polygon points="2501.5,1087.0 2487.0,1085.3 2491.0,1076.8"/>
<path d="M1894.2,807.6C1854.0,818.4 1809.0,828.9 1773.6,840.0C1745.1,849.0 1723.1,859.3 1697.6,867.5C1672.4,875.6 1650.0,881.8 1621.6,888.8C1585.9,897.6 1544.3,907.2 1500.0,915.0C1447.6,924.3 1359.7,935.2 1327.0,939.0C1314.1,940.5 1311.9,940.7 1300.0,941.5C1276.9,943.0 1231.7,944.2 1197.6,945.5"/><polygon points="1183.8,946.0 1197.4,940.8 1197.8,950.2"/>
<path d="M1916.4,807.6C1878.9,820.5 1837.6,833.1 1804.0,846.2C1775.9,857.2 1753.7,870.4 1728.0,879.6C1703.0,888.6 1676.3,892.6 1652.0,901.0C1628.8,909.0 1606.4,918.0 1585.5,928.5C1565.4,938.6 1545.5,950.0 1528.5,962.7C1512.6,974.6 1500.2,988.7 1486.0,1001.8"/><polygon points="1476.0,1011.3 1482.7,998.4 1489.2,1005.2"/>
<path d="M1945.3,807.6L1888.2,848.2"/><polygon points="1877.0,856.2 1885.5,844.4 1891.0,852.0"/>
<path d="M1965.0,807.6L1966.2,919.8"/><polygon points="1966.4,933.6 1961.5,919.9 1970.9,919.7"/>
<path d="M1980.2,807.6C1992.4,821.5 2006.3,835.1 2016.7,849.2C2026.3,862.2 2034.9,875.2 2041.0,888.8C2046.7,901.7 2052.9,915.8 2052.7,928.5C2052.5,940.4 2047.0,952.3 2041.3,962.7C2035.6,973.2 2026.4,984.2 2018.5,991.2C2012.3,996.7 2005.7,999.1 1999.3,1003.0"/><polygon points="1987.2,1009.7 1997.0,998.9 2001.5,1007.1"/>
<path d="M1992.4,807.6C2005.6,817.4 2020.5,825.2 2032.0,837.0C2043.9,849.1 2052.0,866.5 2062.3,879.6C2071.7,891.6 2081.3,899.9 2091.0,912.7C2102.8,928.3 2117.8,948.4 2127.0,967.2C2135.6,984.8 2143.2,1004.3 2145.3,1021.7C2147.1,1036.8 2145.8,1051.5 2141.7,1065.3C2137.5,1079.4 2130.9,1095.1 2120.0,1105.3C2108.4,1116.2 2091.3,1120.9 2072.7,1127.0C2048.2,1135.0 2019.8,1139.6 1984.3,1145.0C1931.3,1153.0 1845.0,1159.8 1785.0,1165.0C1735.8,1169.3 1695.3,1171.7 1650.5,1175.0"/><polygon points="1636.7,1176.0 1650.1,1170.3 1650.8,1179.7"/>
<path d="M1099.0,885.0C1078.8,903.6 1052.2,922.6 1038.4,940.8C1028.3,954.1 1025.0,966.7 1018.2,980.0C1011.3,993.7 1001.1,1007.5 997.3,1021.8C993.7,1035.4 993.1,1050.9 995.2,1063.6C997.1,1075.0 1002.2,1085.7 1007.7,1095.0C1012.8,1103.7 1019.1,1112.4 1026.6,1118.0C1033.8,1123.3 1041.2,1125.2 1051.6,1128.4C1067.6,1133.3 1091.8,1137.3 1114.3,1140.9C1140.1,1145.1 1170.2,1148.3 1198.0,1151.3C1225.4,1154.2 1246.0,1156.0 1280.0,1158.6C1335.6,1162.9 1447.5,1170.4 1500.0,1173.3C1529.2,1174.9 1545.5,1175.4 1568.2,1176.4"/><polygon points="1582.0,1177.0 1568.0,1181.1 1568.4,1171.7"/>
<path d="M1147.8,885.0C1177.2,901.6 1206.1,919.3 1236.0,934.7C1265.8,950.0 1296.9,965.0 1327.0,977.3C1355.4,988.9 1383.2,997.0 1411.3,1006.9"/><polygon points="1424.4,1011.3 1409.8,1011.3 1412.8,1002.4"/>
<path d="M1397.0,885.0C1364.7,893.2 1332.8,900.9 1300.0,909.6C1266.2,918.6 1231.4,928.7 1197.1,938.3"/><polygon points="1183.8,942.0 1195.8,933.7 1198.4,942.8"/>
<path d="M1433.5,885.0C1424.3,898.5 1410.6,912.0 1406.0,925.6C1402.1,937.0 1401.6,950.0 1404.0,960.0C1406.0,968.7 1412.0,975.7 1417.0,982.6C1422.0,989.4 1428.3,995.1 1434.0,1001.3"/><polygon points="1443.5,1011.3 1430.6,1004.6 1437.4,998.1"/>
<path d="M1457.8,885.0C1471.9,903.7 1484.8,921.2 1500.0,941.0C1517.5,963.8 1539.8,990.3 1557.0,1014.0C1572.5,1035.4 1585.1,1055.7 1599.2,1076.5"/><polygon points="1606.8,1088.0 1595.2,1079.1 1603.1,1073.9"/>
<path d="M1782.4,883.5C1749.1,890.7 1711.6,898.3 1682.4,905.0C1659.6,910.3 1637.9,915.5 1621.6,920.0C1610.6,923.1 1602.7,921.9 1594.0,928.5C1580.6,938.6 1564.8,963.3 1557.0,985.5C1548.0,1010.9 1550.9,1044.7 1547.9,1074.2"/><polygon points="1547.0,1088.0 1543.2,1073.9 1552.6,1074.5"/>
<path d="M1782.4,883.0C1754.7,889.3 1727.1,894.5 1699.4,902.0C1671.0,909.6 1631.4,917.6 1614.0,928.5C1604.4,934.5 1596.2,940.7 1595.4,948.4C1594.4,957.4 1607.3,969.2 1614.0,979.8C1621.1,991.0 1632.9,1001.3 1636.7,1014.0C1640.6,1026.9 1638.2,1045.6 1636.7,1056.7C1635.7,1064.1 1633.4,1068.7 1631.7,1074.7"/><polygon points="1628.0,1088.0 1627.2,1073.4 1636.2,1076.0"/>
<path d="M1860.2,884.8C1862.7,896.5 1865.5,909.6 1867.8,920.0C1869.7,928.4 1871.7,933.4 1873.0,942.7C1875.0,957.3 1876.4,980.7 1876.0,999.7C1875.6,1018.7 1874.1,1039.3 1870.4,1056.7C1867.1,1072.2 1863.7,1087.8 1856.0,1099.4C1849.0,1110.1 1840.1,1117.5 1827.6,1125.0C1810.0,1135.6 1782.8,1143.3 1756.4,1150.7C1725.0,1159.6 1686.0,1165.2 1650.8,1172.4"/><polygon points="1637.3,1175.0 1650.0,1167.8 1651.7,1177.0"/>
<path d="M1877.0,884.8L1933.2,925.5"/><polygon points="1944.4,933.6 1930.5,929.3 1936.0,921.7"/>
<path d="M1143.2,962.0C1134.6,975.2 1121.9,988.7 1117.4,1001.6C1113.7,1011.9 1112.5,1022.1 1114.3,1032.0C1116.2,1042.4 1122.7,1054.1 1129.5,1062.4C1135.9,1070.2 1145.3,1074.8 1153.2,1081.0"/><polygon points="1164.5,1089.0 1150.5,1084.8 1156.0,1077.2"/>
<path d="M1162.4,962.0L1171.6,997.9"/><polygon points="1175.0,1011.3 1167.0,999.1 1176.1,996.8"/>
<path d="M1181.8,962.0L1250.1,1004.1"/><polygon points="1261.8,1011.3 1247.6,1008.1 1252.5,1000.1"/>
<path d="M1184.3,951.4C1231.9,956.5 1277.1,961.6 1327.0,966.6C1381.9,972.1 1445.1,977.6 1500.0,982.6C1549.8,987.1 1595.0,990.9 1642.5,995.4C1690.0,999.9 1741.5,1005.4 1785.0,1009.7C1821.7,1013.3 1852.7,1016.3 1886.6,1019.7"/><polygon points="1900.3,1021.0 1886.1,1024.3 1887.0,1015.0"/>
<path d="M1762.0,961.8L1892.9,1006.5"/><polygon points="1906.0,1011.0 1891.4,1011.0 1894.5,1002.1"/>
<path d="M1900.3,958.4C1861.9,964.6 1825.5,970.7 1785.0,977.0C1740.0,984.0 1685.7,992.1 1642.5,998.3C1606.6,1003.5 1576.6,1007.5 1543.7,1012.1"/><polygon points="1530.0,1014.0 1543.0,1007.4 1544.3,1016.8"/>
<path d="M1963.0,961.8L1955.7,997.5"/><polygon points="1953.0,1011.0 1951.1,996.5 1960.4,998.4"/>
<path d="M1181.2,1039.6L1186.7,1075.4"/><polygon points="1188.8,1089.0 1182.1,1076.1 1191.3,1074.6"/>
<path d="M1199.5,1039.6C1221.8,1055.3 1241.5,1072.7 1266.3,1086.7C1293.6,1102.1 1324.4,1115.4 1357.5,1126.5C1394.7,1139.0 1441.9,1147.8 1479.4,1156.0C1511.3,1163.0 1538.8,1167.6 1568.4,1173.4"/><polygon points="1582.0,1176.0 1567.6,1178.0 1569.3,1168.8"/>
<path d="M1228.3,1038.0C1261.2,1048.2 1293.8,1059.2 1327.0,1068.5C1360.4,1077.9 1394.5,1085.5 1428.3,1094.0"/><polygon points="1441.7,1097.3 1427.2,1098.6 1429.4,1089.4"/>
<path d="M1228.3,1037.4C1268.9,1045.6 1307.3,1054.0 1350.0,1062.0C1397.3,1070.9 1475.0,1082.3 1500.0,1088.0C1508.4,1089.9 1511.2,1091.2 1516.7,1092.8"/><polygon points="1530.0,1096.6 1515.4,1097.3 1518.0,1088.3"/>
<path d="M1228.3,1037.0C1285.5,1044.7 1350.4,1054.0 1400.0,1060.0C1437.8,1064.6 1468.9,1065.9 1500.0,1071.0C1527.6,1075.5 1551.7,1082.3 1577.5,1087.9"/><polygon points="1591.0,1091.0 1576.5,1092.5 1578.6,1083.3"/>
<path d="M1228.3,1036.5C1318.9,1042.8 1416.4,1050.3 1500.0,1055.3C1571.6,1059.6 1632.9,1061.7 1699.4,1065.2C1765.9,1068.8 1828.6,1073.0 1898.9,1076.6C1977.8,1080.6 2060.1,1083.9 2150.0,1088.0C2254.3,1092.7 2375.3,1098.2 2488.0,1103.4"/><polygon points="2501.8,1104.0 2487.8,1108.1 2488.2,1098.7"/>
<path d="M1412.2,1039.6L1240.1,1087.5"/><polygon points="1226.8,1091.2 1238.8,1083.0 1241.4,1092.0"/>
<path d="M1460.8,1039.6L1460.8,1075.2"/><polygon points="1460.8,1089.0 1456.1,1075.2 1465.5,1075.2"/>
<path d="M1514.2,1039.6L1683.3,1085.0"/><polygon points="1696.6,1088.6 1682.1,1089.6 1684.5,1080.5"/>
<path d="M1530.0,1031.0C1586.5,1034.3 1640.7,1036.5 1699.4,1041.0C1763.2,1045.8 1828.5,1053.8 1898.9,1059.5C1977.8,1065.8 2060.1,1070.4 2150.0,1076.6C2254.3,1083.8 2375.4,1092.2 2488.0,1100.0"/><polygon points="2501.8,1101.0 2487.7,1104.7 2488.4,1095.4"/>
<path d="M1226.8,1111.0C1270.4,1119.0 1314.7,1127.0 1357.5,1135.0C1398.9,1142.7 1441.9,1151.1 1479.4,1158.0C1511.4,1163.9 1538.7,1168.7 1568.4,1174.1"/><polygon points="1582.0,1176.5 1567.6,1178.7 1569.2,1169.4"/>
<path d="M1900.3,1030.5C1861.9,1036.3 1825.5,1041.7 1785.0,1048.0C1740.0,1055.0 1690.4,1062.8 1642.5,1071.0C1593.6,1079.3 1544.0,1088.7 1494.7,1097.5"/><polygon points="1481.1,1100.0 1493.8,1092.9 1495.5,1102.2"/>
<path d="M1900.3,1031.5C1861.9,1037.5 1823.3,1043.4 1785.0,1049.5C1746.9,1055.6 1706.6,1061.1 1671.0,1068.0C1639.4,1074.2 1611.6,1081.6 1581.8,1088.3"/><polygon points="1568.4,1091.5 1580.8,1083.8 1582.9,1092.9"/>
<path d="M1900.3,1034.0C1861.9,1042.5 1823.8,1050.5 1785.0,1059.5C1745.2,1068.8 1704.6,1079.2 1664.4,1089.0"/><polygon points="1651.0,1092.3 1663.3,1084.4 1665.5,1093.6"/>
<path d="M1911.7,1039.6L1797.9,1083.1"/><polygon points="1785.0,1088.0 1796.2,1078.7 1799.6,1087.5"/>
<path d="M1944.4,1039.6L1936.2,1074.6"/><polygon points="1933.0,1088.0 1931.6,1073.5 1940.7,1075.6"/>
<path d="M1963.0,1039.6L2005.5,1078.7"/><polygon points="2015.7,1088.0 2002.4,1082.1 2008.7,1075.2"/>
<path d="M1995.7,1036.8C2015.7,1043.4 2038.5,1048.2 2055.6,1056.7C2070.0,1063.9 2086.3,1072.6 2092.6,1082.3C2097.1,1089.3 2099.4,1098.1 2096.9,1105.0C2093.9,1113.6 2082.4,1121.9 2069.8,1128.0C2050.1,1137.5 2018.9,1139.8 1984.3,1145.0C1931.9,1152.8 1844.9,1159.4 1785.0,1165.0C1735.9,1169.6 1695.7,1172.7 1651.0,1176.6"/><polygon points="1637.3,1177.8 1650.6,1171.9 1651.5,1181.3"/>
<path d="M1995.7,1031.6C2047.1,1039.0 2098.9,1046.5 2150.0,1053.8C2200.3,1061.0 2247.1,1068.2 2300.0,1075.0C2359.1,1082.5 2425.4,1089.3 2488.1,1096.5"/><polygon points="2501.8,1098.0 2487.6,1101.1 2488.6,1091.8"/>
</g><g class="n">
<rect class="k" x="1409.5" y="5.9" width="233.8" height="27.8" style="fill:#bfbfbf"/>
<text x="1526.4" y="23.1" textLength="210.9" lengthAdjust="spacingAndGlyphs">NeuralProbabilisticLanguageModel.h</text>
<rect class="k" x="1444.9" y="83.2" width="163.0" height="27.8"/>
<text x="1526.4" y="100.4" textLength="139.2" lengthAdjust="spacingAndGlyphs">plearn/feat/FeatureSet.h</text>
<rect class="k" x="1852.9" y="83.2" width="85.8" height="27.8"/>
<text x="1895.8" y="100.4" textLength="63.1" lengthAdjust="spacingAndGlyphs">PLearner.h</text>
<rect class="k" x="1547.4" y="160.6" width="136.6" height="27.8"/>
<text x="1615.7" y="177.8" textLength="111.9" lengthAdjust="spacingAndGlyphs">plearn/vmat/VMat.h</text>
<rect class="k" x="1607.1" y="237.9" width="65.6" height="27.8"/>
<text x="1639.9" y="255.1" textLength="40.9" lengthAdjust="spacingAndGlyphs">VVec.h</text>
<rect class="k" x="997.0" y="315.2" width="162.8" height="27.8"/>
<text x="1078.4" y="332.4" textLength="139.9" lengthAdjust="spacingAndGlyphs">plearn/math/PRandom.h</text>
<rect class="r" x="1676.3" y="315.2" width="79.0" height="27.8"/>
<text x="1715.8" y="332.4" textLength="54.5" lengthAdjust="spacingAndGlyphs">VMatrix.h</text>
<rect class="k" x="2191.5" y="315.2" width="211.0" height="27.8"/>
<text x="2297.0" y="332.4" textLength="183.6" lengthAdjust="spacingAndGlyphs">plearn/math/VecStatsCollector.h</text>
<rect class="g" x="42.3" y="392.5" width="267.1" height="27.8"/>
<text x="175.8" y="409.7" textLength="243.2" lengthAdjust="spacingAndGlyphs">boost/random/exponential_distribution.hpp</text>
<rect class="g" x="332.3" y="392.5" width="233.7" height="27.8"/>
<text x="449.1" y="409.7" textLength="208.8" lengthAdjust="spacingAndGlyphs">boost/random/mersenne_twister.hpp</text>
<rect class="g" x="588.5" y="392.5" width="238.8" height="27.8"/>
<text x="707.9" y="409.7" textLength="216.6" lengthAdjust="spacingAndGlyphs">boost/random/normal_distribution.hpp</text>
<rect class="g" x="850.5" y="392.5" width="194.7" height="27.8"/>
<text x="947.9" y="409.7" textLength="172.2" lengthAdjust="spacingAndGlyphs">boost/random/uniform_01.hpp</text>
<rect class="k" x="1119.7" y="392.5" width="178.6" height="27.8"/>
<text x="1209.0" y="409.7" textLength="154.2" lengthAdjust="spacingAndGlyphs">plearn/math/TMat_maths.h</text>
<rect class="k" x="1843.1" y="392.5" width="116.1" height="27.8"/>
<text x="1901.2" y="409.7" textLength="90.4" lengthAdjust="spacingAndGlyphs">StatsCollector.h</text>
<rect class="k" x="2292.2" y="392.5" width="151.0" height="27.8"/>
<text x="2367.7" y="409.7" textLength="125.5" lengthAdjust="spacingAndGlyphs">ObservationWindow.h</text>
<rect class="r" x="895.6" y="469.9" width="192.7" height="27.8"/>
<text x="992.0" y="487.1" textLength="167.1" lengthAdjust="spacingAndGlyphs">TMat_maths_specialisation.h</text>
<rect class="r" x="1161.6" y="469.9" width="137.9" height="27.8"/>
<text x="1230.5" y="487.1" textLength="113.3" lengthAdjust="spacingAndGlyphs">TMat_maths_impl.h</text>
<rect class="k" x="1728.0" y="469.9" width="136.0" height="27.8"/>
<text x="1796.0" y="487.1" textLength="111.9" lengthAdjust="spacingAndGlyphs">plearn/math/TVec.h</text>
<rect class="k" x="1937.8" y="469.9" width="180.5" height="27.8"/>
<text x="2028.1" y="487.1" textLength="157.8" lengthAdjust="spacingAndGlyphs">plearn/base/RealMapping.h</text>
<rect class="r" x="1456.3" y="547.2" width="63.3" height="27.8"/>
<text x="1487.9" y="564.4" textLength="40.2" lengthAdjust="spacingAndGlyphs">TMat.h</text>
<rect class="k" x="1892.4" y="547.2" width="142.8" height="27.8"/>
<text x="1963.8" y="564.4" textLength="119.1" lengthAdjust="spacingAndGlyphs">plearn/base/Object.h</text>
<rect class="r" x="2645.1" y="547.2" width="147.1" height="27.8"/>
<text x="2718.6" y="564.4" textLength="124.8" lengthAdjust="spacingAndGlyphs">plearn/base/general.h</text>
<rect class="k" x="1820.2" y="624.5" width="167.3" height="27.8"/>
<text x="1903.8" y="641.7" textLength="143.5" lengthAdjust="spacingAndGlyphs">RemoteDeclareMethod.h</text>
<rect class="k" x="2226.2" y="624.5" width="107.2" height="27.8"/>
<text x="2279.8" y="641.7" textLength="80.8" lengthAdjust="spacingAndGlyphs">TypeFactory.h</text>
<rect class="k" x="1470.7" y="701.9" width="71.0" height="27.8"/>
<text x="1506.2" y="719.1" textLength="48.8" lengthAdjust="spacingAndGlyphs">Option.h</text>
<rect class="k" x="1943.2" y="701.9" width="118.8" height="27.8"/>
<text x="2002.6" y="719.1" textLength="93.3" lengthAdjust="spacingAndGlyphs">StaticInitializer.h</text>
<rect class="r" x="2186.6" y="701.9" width="146.8" height="27.8"/>
<text x="2260.0" y="719.1" textLength="124.1" lengthAdjust="spacingAndGlyphs">RemoteMethodMap.h</text>
<rect class="k" x="2517.0" y="701.9" width="123.0" height="27.8"/>
<text x="2578.5" y="719.1" textLength="99.0" lengthAdjust="spacingAndGlyphs">plearn/io/PPath.h</text>
<rect class="k" x="1047.5" y="779.2" width="173.9" height="27.8"/>
<text x="1134.5" y="796.4" textLength="148.5" lengthAdjust="spacingAndGlyphs">plearn/base/lexical_cast.h</text>
<rect class="r" x="1346.4" y="779.2" width="123.1" height="27.8"/>
<text x="1408.0" y="796.4" textLength="98.8" lengthAdjust="spacingAndGlyphs">plearn/base/diff.h</text>
<rect class="r" x="1893.9" y="779.2" width="142.5" height="27.8"/>
<text x="1965.2" y="796.4" textLength="120.0" lengthAdjust="spacingAndGlyphs">RemoteTrampoline.h</text>
<rect class="k" x="1047.1" y="856.5" width="148.3" height="27.8"/>
<text x="1121.2" y="873.7" textLength="126.3" lengthAdjust="spacingAndGlyphs">plearn/io/openString.h</text>
<rect class="r" x="1397.3" y="856.5" width="101.3" height="27.8"/>
<text x="1447.9" y="873.7" textLength="78.2" lengthAdjust="spacingAndGlyphs">OptionBase.h</text>
<rect class="r" x="1782.4" y="856.5" width="146.9" height="27.8"/>
<text x="1855.8" y="873.7" textLength="121.9" lengthAdjust="spacingAndGlyphs">RemoteMethodDoc.h</text>
<rect class="k" x="1133.3" y="933.9" width="50.5" height="27.8"/>
<text x="1158.5" y="951.1" textLength="26.3" lengthAdjust="spacingAndGlyphs">PP.h</text>
<rect class="r" x="1612.7" y="933.9" width="214.6" height="27.8"/>
<text x="1720.0" y="951.1" textLength="190.8" lengthAdjust="spacingAndGlyphs">plearn/base/ObjectConversions.h</text>
<rect class="r" x="1900.5" y="933.9" width="132.4" height="27.8"/>
<text x="1966.7" y="951.1" textLength="109.8" lengthAdjust="spacingAndGlyphs">plearn/base/tuple.h</text>
<rect class="r" x="1129.0" y="1011.2" width="99.0" height="27.8"/>
<text x="1178.5" y="1028.4" textLength="76.0" lengthAdjust="spacingAndGlyphs">CopiesMap.h</text>
<rect class="g" x="1251.3" y="1011.2" width="68.0" height="27.8"/>
<text x="1285.3" y="1028.4" textLength="45.2" lengthAdjust="spacingAndGlyphs">typeinfo</text>
<rect class="r" x="1392.2" y="1011.2" width="137.5" height="27.8"/>
<text x="1461.0" y="1028.4" textLength="114.1" lengthAdjust="spacingAndGlyphs">plearn/io/PStream.h</text>
<rect class="k" x="1900.5" y="1011.2" width="94.4" height="27.8"/>
<text x="1947.7" y="1028.4" textLength="70.5" lengthAdjust="spacingAndGlyphs">TypeTraits.h</text>
<rect class="r" x="1156.9" y="1088.5" width="69.9" height="27.8"/>
<text x="1191.8" y="1105.7" textLength="47.3" lengthAdjust="spacingAndGlyphs">plerror.h</text>
<rect class="g" x="1441.1" y="1088.5" width="40.0" height="27.8"/>
<text x="1461.1" y="1105.7" textLength="17.2" lengthAdjust="spacingAndGlyphs">set</text>
<rect class="g" x="1530.0" y="1088.5" width="38.4" height="27.8"/>
<text x="1549.2" y="1105.7" textLength="15.8" lengthAdjust="spacingAndGlyphs">list</text>
<rect class="g" x="1591.7" y="1088.5" width="59.0" height="27.8"/>
<text x="1621.2" y="1105.7" textLength="35.1" lengthAdjust="spacingAndGlyphs">vector</text>
<rect class="r" x="1673.8" y="1088.5" width="153.7" height="27.8"/>
<text x="1750.7" y="1105.7" textLength="129.9" lengthAdjust="spacingAndGlyphs">plearn/base/pl_stdint.h</text>
<rect class="g" x="1900.5" y="1088.5" width="57.4" height="27.8"/>
<text x="1929.2" y="1105.7" textLength="35.9" lengthAdjust="spacingAndGlyphs">queue</text>
<rect class="g" x="1980.4" y="1088.5" width="97.9" height="27.8"/>
<text x="2029.4" y="1105.7" textLength="75.3" lengthAdjust="spacingAndGlyphs">nspr/prlong.h</text>
<rect class="g" x="2501.8" y="1088.5" width="46.6" height="27.8"/>
<text x="2525.1" y="1105.7" textLength="25.1" lengthAdjust="spacingAndGlyphs">map</text>
<rect class="g" x="1582.0" y="1165.9" width="54.7" height="27.8"/>
<text x="1609.3" y="1183.1" textLength="31.6" lengthAdjust="spacingAndGlyphs">string</text>
</g></svg></body></html>
